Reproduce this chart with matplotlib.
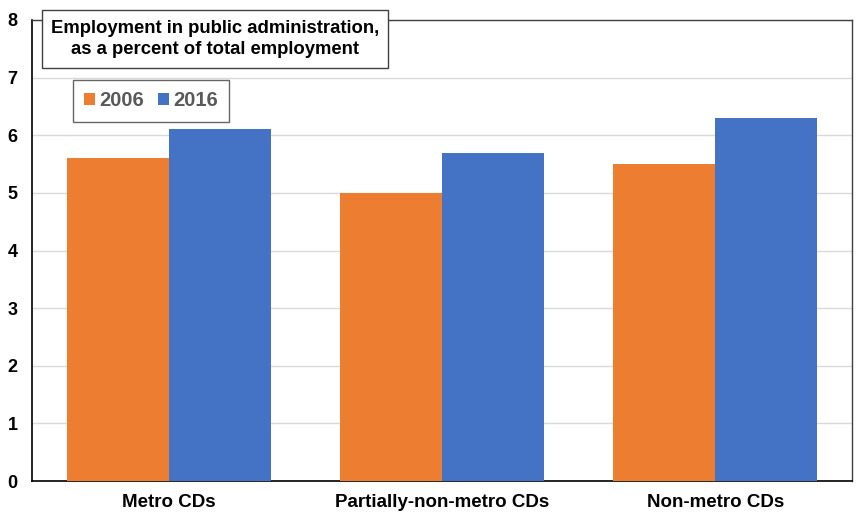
import matplotlib.pyplot as plt
import numpy as np

plt.rcParams['font.family'] = ['Liberation Sans', 'DejaVu Sans']

# data
categories = ['Metro CDs', 'Partially-non-metro CDs', 'Non-metro CDs']
years = ['2006', '2016']
vals_2006 = [5.6, 5.0, 5.5]
vals_2016 = [6.1, 5.7, 6.3]
colors = ['#ED7D31', '#4472C4']

fig = plt.figure(figsize=(8.56, 5.14), dpi=100)
ax = fig.add_axes([32 / 856, 33 / 514, 820 / 856, 461 / 514])

x = np.arange(len(categories))
w = 0.373
ax.bar(x - w / 2, vals_2006, w, color=colors[0], label=years[0], zorder=3)
ax.bar(x + w / 2, vals_2016, w, color=colors[1], label=years[1], zorder=3)

ax.set_xlim(-0.5, 2.5)
ax.set_ylim(0, 8)
ax.set_yticks(range(0, 9))
ax.set_xticks(x)
ax.set_xticklabels(categories, fontsize=13.5, fontweight='bold')
ax.tick_params(axis='x', length=0, pad=9.5)
ax.tick_params(axis='y', length=0, pad=10.5, labelsize=13)
for t in ax.get_yticklabels():
    t.set_fontweight('bold')

ax.grid(axis='y', color='#D9D9D9', linewidth=1, zorder=0)
for s in ['left', 'bottom']:
    ax.spines[s].set_color('black')
    ax.spines[s].set_linewidth(1.2)
for s in ['top', 'right']:
    ax.spines[s].set_color('#404040')
    ax.spines[s].set_linewidth(1)

# title box
fig.text(215 / 856, 1 - 39 / 514,
         'Employment in public administration,\nas a percent of total employment',
         ha='center', va='center', fontsize=13.3, fontweight='bold',
         linespacing=1.35,
         bbox=dict(boxstyle='square,pad=0.5', facecolor='white',
                   edgecolor='#404040', linewidth=1))

leg = fig.legend(loc='center', bbox_to_anchor=(151 / 856, 1 - 101 / 514),
                 ncol=2, frameon=True, fancybox=False, edgecolor='#404040',
                 handlelength=0.55, handleheight=0.55, handletextpad=0.25,
                 columnspacing=0.65, borderpad=0.55, borderaxespad=0,
                 prop={'size': 14.5, 'weight': 'bold'})
leg.get_frame().set_linewidth(1)
for t in leg.get_texts():
    t.set_color('#595959')

fig.savefig('out.png', dpi=100)
